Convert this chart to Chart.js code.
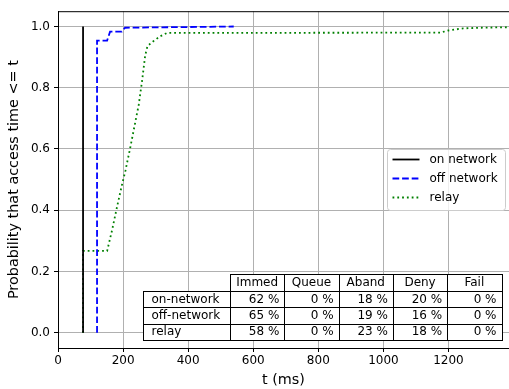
<!DOCTYPE html>
<html>
<head>
<meta charset="utf-8">
<script src="https://cdn.jsdelivr.net/npm/chart.js@4/dist/chart.umd.min.js"></script>
<style>
  html, body { margin: 0; padding: 0; background: #fff; overflow: hidden; }
  #wrap { width: 509px; height: 389px; }
</style>
</head>
<body>
<div id="wrap"><canvas id="cdf" width="509" height="389"></canvas></div>
<script>
// Axis ticks
const xTicks = [0, 200, 400, 600, 800, 1000, 1200];
const yTicks = [0.0, 0.2, 0.4, 0.6, 0.8, 1.0];

// Cumulative distribution of access time (ms) per scenario
const onNetTime = [77, 77];
const onNetProb = [0.0, 1.0];

const offNetTime = [120, 120, 151, 160, 196, 206, 540];
const offNetProb = [0.0, 0.954, 0.954, 0.983, 0.983, 0.996, 1.0];

const relayTime = [77, 77, 151, 166, 181, 197, 207, 222, 232, 248, 258, 268, 275, 289, 314, 335, 1175, 1200, 1245, 1300, 1400];
const relayProb = [0.0, 0.267, 0.267, 0.334, 0.409, 0.485, 0.528, 0.604, 0.658, 0.744, 0.819, 0.906, 0.936, 0.949, 0.968, 0.979, 0.980, 0.987, 0.994, 0.996, 0.998];

// Outcome summary table
const tableColumns = ['Immed', 'Queue', 'Aband', 'Deny', 'Fail'];
const tableRows = ['on-network', 'off-network', 'relay'];
const onNetOutcome = [62, 0, 18, 20, 0];
const offNetOutcome = [65, 0, 19, 16, 0];
const relayOutcome = [58, 0, 23, 18, 0];
const tableValues = [onNetOutcome, offNetOutcome, relayOutcome];

const FONT = 'DejaVu Sans';
const pts = (xs, ys) => xs.map((x, i) => ({ x: x, y: ys[i] }));

// Top spine of the axes frame
const framePlugin = {
  id: 'frame',
  afterDraw(chart) {
    const { ctx, chartArea: a } = chart;
    ctx.save();
    ctx.strokeStyle = '#000';
    ctx.lineWidth = 1;
    ctx.beginPath();
    ctx.moveTo(a.left, a.top + 0.5);
    ctx.lineTo(a.right, a.top + 0.5);
    ctx.stroke();
    ctx.restore();
  }
};

// Legend box drawn inside the plot area, from the datasets
const legendPlugin = {
  id: 'innerLegend',
  afterDatasetsDraw(chart) {
    const { ctx, chartArea: a } = chart;
    const x0 = a.right - 121.5, y0 = 149.5, w = 118, h = 61, r = 3;
    ctx.save();
    ctx.beginPath();
    ctx.roundRect(x0, y0, w, h, r);
    ctx.fillStyle = 'rgba(255,255,255,0.8)';
    ctx.fill();
    ctx.strokeStyle = '#cccccc';
    ctx.lineWidth = 1;
    ctx.stroke();
    ctx.font = '12px "' + FONT + '"';
    ctx.textBaseline = 'middle';
    ctx.textAlign = 'left';
    chart.data.datasets.forEach((ds, i) => {
      const y = y0 + 10 + i * 19;
      ctx.beginPath();
      ctx.setLineDash(ds.borderDash || []);
      ctx.lineCap = 'butt';
      ctx.strokeStyle = ds.borderColor;
      ctx.lineWidth = ds.borderWidth;
      ctx.moveTo(x0 + 5, y);
      ctx.lineTo(x0 + 32, y);
      ctx.stroke();
      ctx.setLineDash([]);
      ctx.fillStyle = '#000';
      ctx.fillText(ds.label, x0 + 42, y);
    });
    ctx.restore();
  }
};

// Outcome table in the lower right of the plot area
const tablePlugin = {
  id: 'outcomeTable',
  afterDatasetsDraw(chart) {
    const { ctx, chartArea: a } = chart;
    const rowH = 16.4;
    const colW = 54.3;
    const labelW = 87.5;
    const right = a.right - 7.5;
    const bottom = a.bottom - 8;
    const top = bottom - rowH * (tableRows.length + 1);
    const dataLeft = right - colW * tableColumns.length;
    const labelLeft = dataLeft - labelW;
    ctx.save();
    ctx.font = '12px "' + FONT + '"';
    ctx.textBaseline = 'middle';
    ctx.lineWidth = 1;
    ctx.strokeStyle = '#000';
    const cell = (x, y, w, h) => {
      const rx = Math.round(x) + 0.5, ry = Math.round(y) + 0.5;
      const rw = Math.round(x + w) - Math.round(x), rh = Math.round(y + h) - Math.round(y);
      ctx.fillStyle = '#fff';
      ctx.fillRect(rx, ry, rw, rh);
      ctx.strokeRect(rx, ry, rw, rh);
    };
    tableColumns.forEach((c, j) => cell(dataLeft + j * colW, top, colW, rowH));
    tableRows.forEach((rname, i) => {
      const y = top + (i + 1) * rowH;
      cell(labelLeft, y, labelW, rowH);
      tableColumns.forEach((c, j) => cell(dataLeft + j * colW, y, colW, rowH));
    });
    ctx.fillStyle = '#000';
    tableColumns.forEach((c, j) => {
      ctx.textAlign = 'center';
      ctx.fillText(c, dataLeft + j * colW + colW / 2, top + rowH / 2 + 0.5);
    });
    tableRows.forEach((rname, i) => {
      const yc = top + (i + 1) * rowH + rowH / 2 + 0.5;
      ctx.textAlign = 'left';
      ctx.fillText(rname, labelLeft + 9, yc);
      ctx.textAlign = 'right';
      tableValues[i].forEach((v, j) => {
        ctx.fillText(v + ' %', dataLeft + (j + 1) * colW - 5, yc);
      });
    });
    ctx.restore();
  }
};

const tickFont = { family: FONT, size: 12 };
const titleFont = { family: FONT, size: 14.4 };

new Chart(document.getElementById('cdf'), {
  type: 'scatter',
  data: {
    datasets: [
      { label: 'on network', data: pts(onNetTime, onNetProb), showLine: true,
        borderColor: '#000000', borderWidth: 1.8, pointRadius: 0, tension: 0 },
      { label: 'off network', data: pts(offNetTime, offNetProb), showLine: true,
        borderColor: '#0000ff', borderWidth: 1.8, borderDash: [6.7, 2.9], pointRadius: 0, tension: 0 },
      { label: 'relay', data: pts(relayTime, relayProb), showLine: true,
        borderColor: '#008000', borderWidth: 1.8, borderDash: [1.8, 3.0], pointRadius: 0, tension: 0 }
    ]
  },
  options: {
    responsive: false,
    animation: false,
    devicePixelRatio: 1,
    layout: { padding: { top: 10, right: 0, bottom: 0, left: 0 } },
    plugins: { legend: { display: false }, tooltip: { enabled: false } },
    scales: {
      x: {
        type: 'linear', min: 0, max: 1386,
        afterBuildTicks: s => { s.ticks = xTicks.map(v => ({ value: v })); },
        afterFit: s => { s.height = 41; },
        grid: { color: '#b0b0b0', lineWidth: 1, tickColor: '#000', tickLength: 4, tickWidth: 1 },
        border: { display: true, color: '#000', width: 1 },
        ticks: { color: '#000', font: tickFont, padding: 2, maxRotation: 0, autoSkip: false,
                 callback: v => String(v) },
        title: { display: true, text: 't (ms)', color: '#000', font: titleFont, padding: { top: 0, bottom: 0 } }
      },
      y: {
        type: 'linear', min: -0.05, max: 1.05,
        afterBuildTicks: s => { s.ticks = yTicks.map(v => ({ value: v })); },
        afterFit: s => { s.width = 58; },
        grid: { color: '#b0b0b0', lineWidth: 1, tickColor: '#000', tickLength: 4, tickWidth: 1 },
        border: { display: true, color: '#000', width: 1 },
        ticks: { color: '#000', font: tickFont, padding: 4, callback: v => Number(v).toFixed(1) },
        title: { display: true, text: 'Probability that access time <= t', color: '#000', font: titleFont, padding: { top: 6, bottom: 0 } }
      }
    }
  },
  plugins: [framePlugin, legendPlugin, tablePlugin]
});
</script>
</body>
</html>
